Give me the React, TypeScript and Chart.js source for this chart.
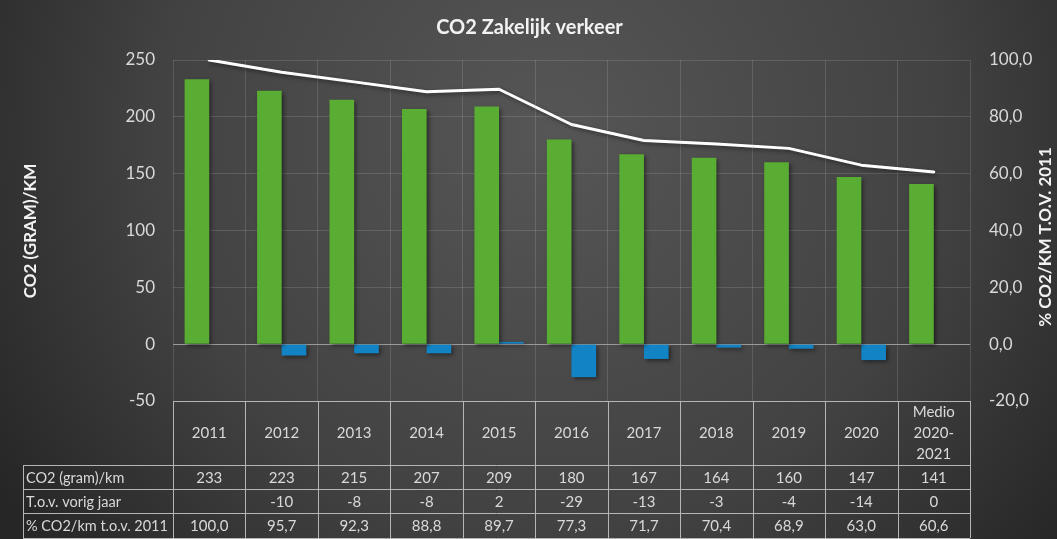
import React, { useEffect, useRef } from 'react';
import { Chart, registerables } from 'chart.js';

Chart.register(...registerables);

const chartTitle = 'CO2 Zakelijk verkeer';
const leftAxisTitle = 'CO2 (GRAM)/KM';
const rightAxisTitle = '% CO2/KM T.O.V. 2011';

const categories: (string | string[])[] = ['2011', '2012', '2013', '2014', '2015', '2016', '2017', '2018', '2019', '2020', ['Medio', '2020-', '2021']];
const co2Values = [233, 223, 215, 207, 209, 180, 167, 164, 160, 147, 141];
const changeValues: (number | null)[] = [null, -10, -8, -8, 2, -29, -13, -3, -4, -14, 0];
const pctValues = [100.0, 95.7, 92.3, 88.8, 89.7, 77.3, 71.7, 70.4, 68.9, 63.0, 60.6];
const rowLabels = ['CO2 (gram)/km', 'T.o.v. vorig jaar', '% CO2/km t.o.v. 2011'];

const FONT = 'Lato, "Open Sans", sans-serif';
const TEXT = '#d9d9d9';
const LINE = '#b5b5b5';

const fmt1 = (v: number) => v.toFixed(1).replace('.', ',');

const bgPlugin = {
  id: 'bg',
  beforeDraw(chart: any) {
    const { ctx, width, height } = chart;
    ctx.save();
    const g = ctx.createRadialGradient(width * 0.52, height * 0.25, 0, width * 0.52, height * 0.25, width * 0.62);
    g.addColorStop(0, '#565656');
    g.addColorStop(0.6, '#424242');
    g.addColorStop(1, '#262626');
    ctx.fillStyle = g;
    ctx.fillRect(0, 0, width, height);
    ctx.restore();
  },
};

const shadowPlugin = {
  id: 'shadow',
  beforeDatasetsDraw(chart: any) {
    const ctx = chart.ctx;
    ctx.save();
    ctx.shadowColor = 'rgba(0,0,0,0.45)';
    ctx.shadowBlur = 4;
    ctx.shadowOffsetX = 2;
    ctx.shadowOffsetY = 2;
  },
  afterDatasetsDraw(chart: any) {
    chart.ctx.restore();
  },
};

const tablePlugin = {
  id: 'table',
  afterDraw(chart: any) {
    const { ctx, chartArea, scales } = chart;
    const x = scales.x;
    const left = chartArea.left;
    const right = chartArea.right;
    const n = categories.length;
    const w = (right - left) / n;
    const top = chartArea.bottom;
    const headerBottom = top + 64;
    const rowBottoms = [headerBottom + 24, headerBottom + 48, headerBottom + 73];
    const labelLeft = 23;
    const crisp = (v: number) => Math.round(v) + 0.5;

    ctx.save();
    ctx.strokeStyle = LINE;
    ctx.lineWidth = 1;
    ctx.beginPath();
    ctx.moveTo(left, crisp(top));
    ctx.lineTo(right, crisp(top));
    [headerBottom, ...rowBottoms].forEach((yy) => {
      ctx.moveTo(labelLeft, crisp(yy));
      ctx.lineTo(right, crisp(yy));
    });
    for (let i = 0; i <= n; i++) {
      const xx = crisp(left + i * w);
      ctx.moveTo(xx, top);
      ctx.lineTo(xx, rowBottoms[2]);
    }
    ctx.moveTo(crisp(labelLeft), headerBottom);
    ctx.lineTo(crisp(labelLeft), rowBottoms[2]);
    ctx.stroke();

    ctx.fillStyle = TEXT;
    ctx.font = `15px ${FONT}`;
    ctx.textBaseline = 'middle';
    ctx.textAlign = 'center';
    const hMid = (top + headerBottom) / 2;
    categories.forEach((c, i) => {
      const cx = x.getPixelForValue(i);
      const lines = Array.isArray(c) ? c : [c];
      const lh = 21;
      lines.forEach((ln, j) => {
        ctx.fillText(ln, cx, hMid + (j - (lines.length - 1) / 2) * lh);
      });
    });
    const rowTops = [headerBottom, rowBottoms[0], rowBottoms[1]];
    const rowTexts = [
      co2Values.map((v) => String(v)),
      changeValues.map((v) => (v === null ? '' : String(v))),
      pctValues.map((v) => fmt1(v)),
    ];
    rowTexts.forEach((texts, r) => {
      const my = (rowTops[r] + rowBottoms[r]) / 2 + 1;
      ctx.textAlign = 'left';
      ctx.font = `14.5px ${FONT}`;
      ctx.fillText(rowLabels[r], labelLeft + 3, my);
      ctx.font = `15px ${FONT}`;
      ctx.textAlign = 'center';
      texts.forEach((t, i) => ctx.fillText(t, x.getPixelForValue(i), my));
    });

    // titles
    ctx.fillStyle = '#f2f2f2';
    ctx.font = `bold 20px ${FONT}`;
    ctx.textAlign = 'center';
    ctx.fillText(chartTitle, chart.width / 2 + 1, 28);

    ctx.font = `bold 17px ${FONT}`;
    ctx.save();
    ctx.translate(31, 231);
    ctx.rotate(-Math.PI / 2);
    ctx.fillText(leftAxisTitle, 0, 0);
    ctx.restore();
    ctx.save();
    ctx.translate(1046, 237);
    ctx.rotate(-Math.PI / 2);
    ctx.fillText(rightAxisTitle, 0, 0);
    ctx.restore();
    ctx.restore();
  },
};

export default function App() {
  const ref = useRef<HTMLCanvasElement>(null);
  useEffect(() => {
    if (!ref.current) return;
    const chart = new Chart(ref.current, {
      type: 'bar',
      data: {
        labels: categories as any,
        datasets: [
          {
            type: 'line',
            label: rightAxisTitle,
            data: pctValues,
            yAxisID: 'y1',
            borderColor: '#ffffff',
            borderWidth: 3,
            borderJoinStyle: 'round',
            borderCapStyle: 'round',
            pointRadius: 0,
            tension: 0,
            order: 0,
          } as any,
          {
            label: 'CO2 (gram)/km',
            data: co2Values,
            backgroundColor: '#5aad33',
            yAxisID: 'y',
            barPercentage: 1,
            categoryPercentage: 0.68,
            order: 1,
          },
          {
            label: 'T.o.v. vorig jaar',
            data: changeValues,
            backgroundColor: '#1284c6',
            yAxisID: 'y',
            barPercentage: 1,
            categoryPercentage: 0.68,
            order: 1,
          },
        ],
      },
      options: {
        responsive: false,
        animation: false,
        layout: { padding: { top: 60, bottom: 138, left: 0, right: 0 } },
        plugins: { legend: { display: false }, tooltip: { enabled: false }, title: { display: false } },
        scales: {
          x: {
            offset: true,
            grid: { color: 'rgba(255,255,255,0.13)', offset: true, drawTicks: false },
            border: { display: false },
            ticks: { display: false },
            afterFit: (s: any) => { s.height = 0; },
          },
          y: {
            position: 'left',
            min: -50,
            max: 250,
            ticks: { stepSize: 50, color: TEXT, font: { size: 17, family: FONT }, padding: 18 },
            grid: {
              drawTicks: false,
              color: (c: any) => (c.tick && c.tick.value === 0 ? '#9a9a9a' : c.tick && c.tick.value === -50 ? LINE : 'rgba(255,255,255,0.13)'),
            },
            border: { display: false },
            afterFit: (s: any) => { s.width = 173; },
          },
          y1: {
            position: 'right',
            min: -20,
            max: 100,
            ticks: { stepSize: 20, color: TEXT, font: { size: 17, family: FONT }, padding: 19, callback: (v: any) => fmt1(Number(v)) },
            grid: { display: false, drawTicks: false },
            border: { display: false },
            afterFit: (s: any) => { s.width = 87; },
          },
        },
      },
      plugins: [bgPlugin, shadowPlugin, tablePlugin],
    });
    return () => chart.destroy();
  }, []);
  return (
    <div style={{ position: 'fixed', left: 0, top: 0, width: 1057, height: 539 }}>
      <canvas ref={ref} width={1057} height={539} style={{ display: 'block' }} />
    </div>
  );
}
